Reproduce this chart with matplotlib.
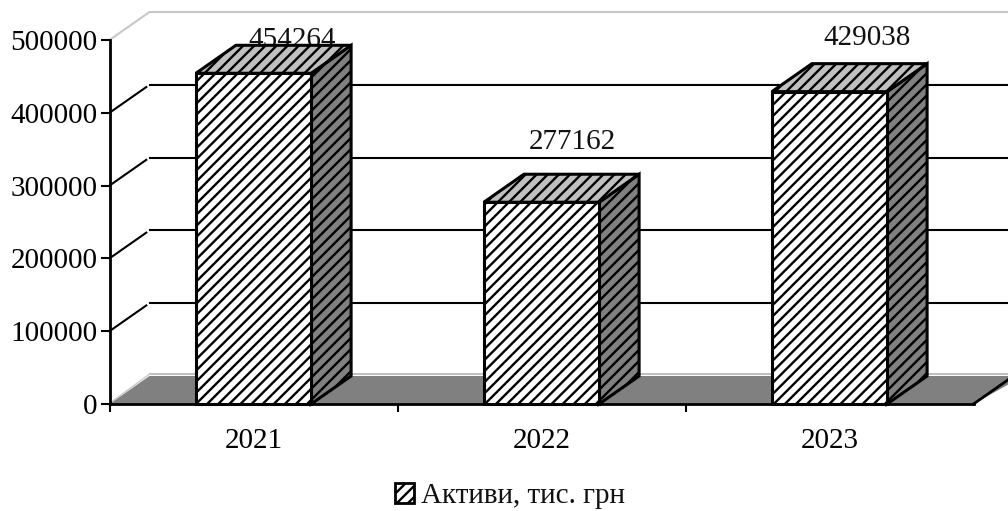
import matplotlib
matplotlib.use("Agg")
import matplotlib.pyplot as plt
from matplotlib.patches import Patch, Polygon

plt.rcParams['font.family'] = ['Liberation Serif', 'DejaVu Serif']
plt.rcParams['hatch.linewidth'] = 1.7

years = ['2021', '2022', '2023']
assets = [454264, 277162, 429038]
y_ticks = [0, 100000, 200000, 300000, 400000, 500000]
legend_label = 'Активи, тис. грн'

# hand placed value labels: lift above the bar's back edge, sideways shift
label_lift = [-10000, 27000, 17500]
label_shift = [-0.005, -0.031, -0.010]

W, H = 1008, 511
fig = plt.figure(figsize=(W / 100, H / 100), dpi=100)
ax = fig.add_axes([109.5 / W, 1 - 404 / H, 864 / W, 364 / H])
ax.patch.set_visible(False)
ax.set_xlim(-0.5, 2.5)
ax.set_ylim(0, 500000)

# pseudo 3d depth in data units
DX = 40 / 288
DY = 28 / 364 * 500000
BAR_W = 0.2
RIGHT = 2.5 + 50 / 288


def poly(pts, **kw):
    p = Polygon(pts, closed=True, clip_on=False, **kw)
    ax.add_patch(p)


# floor
poly([(-0.5, 0), (-0.5 + DX, DY), (RIGHT, DY), (2.5, 0)], facecolor='#808080', edgecolor='none', zorder=1)
ax.plot([2.5, 2.5 + DX], [0, DY], color='black', lw=2, clip_on=False, zorder=2)
ax.plot([-0.5 + DX, RIGHT], [DY + 2500, DY + 2500], color='#c0c0c0', lw=1.5, clip_on=False, zorder=1)
ax.plot([-0.5, -0.5 + DX], [1000, DY + 2500], color='#c8c8c8', lw=1, clip_on=False, zorder=1)

# back wall outline at the top
ax.plot([-0.5, -0.5 + DX, RIGHT], [500000, 500000 + DY, 500000 + DY], color='#c8c8c8', lw=1.5,
        clip_on=False, zorder=1)

# grid lines, the slanted part stops just short of the wall
for v in y_ticks[1:-1]:
    ax.plot([-0.5, -0.5 + DX * 0.92], [v, v + DY * 0.92], color='black', lw=1.5, clip_on=False, zorder=2)
    ax.plot([-0.5 + DX, RIGHT], [v + DY, v + DY], color='black', lw=1.5, clip_on=False, zorder=2)

# value labels sit under the bars, the first one is partly hidden
for i, v in enumerate(assets):
    ax.text(i + DX + label_shift[i], v + DY + label_lift[i], str(v), ha='center', va='bottom', fontsize=21,
            color='#111111', zorder=3, clip_on=False)

# bars: side, top, front
for i, v in enumerate(assets):
    l = i - BAR_W
    r = i + BAR_W
    edge = dict(edgecolor='black', linewidth=2.2, hatch='///', zorder=4)
    poly([(r, 0), (r + DX, DY), (r + DX, v + DY), (r, v)], facecolor='#808080', **edge)
    poly([(l, v), (l + DX, v + DY), (r + DX, v + DY), (r, v)], facecolor='#c0c0c0', **edge)
    poly([(l, 0), (l, v), (r, v), (r, 0)], facecolor='white', **edge)

for s in ['top', 'right']:
    ax.spines[s].set_visible(False)
for s in ['left', 'bottom']:
    ax.spines[s].set_linewidth(2)
    ax.spines[s].set_zorder(5)

ax.set_yticks(y_ticks)
ax.set_yticklabels([str(v) for v in y_ticks])
ax.set_xticks([-0.5, 0.5, 1.5])
ax.set_xticklabels([])
ax.set_xticks(range(len(years)), labels=years, minor=True)
ax.tick_params(axis='y', length=6.5, width=1.5, labelsize=21, pad=2)
ax.tick_params(axis='x', which='major', length=6, width=1.5)
ax.tick_params(axis='x', which='minor', length=0, labelsize=21, pad=17)

handle = Patch(facecolor='white', edgecolor='black', linewidth=2, hatch='///')
fig.legend([handle], [legend_label], loc='center', bbox_to_anchor=(510 / W, 1 - 496 / H),
           frameon=False, fontsize=21, handlelength=0.67, handleheight=0.67, handletextpad=0.25,
           labelcolor='#111111')

fig.savefig('out.png', dpi=100)
